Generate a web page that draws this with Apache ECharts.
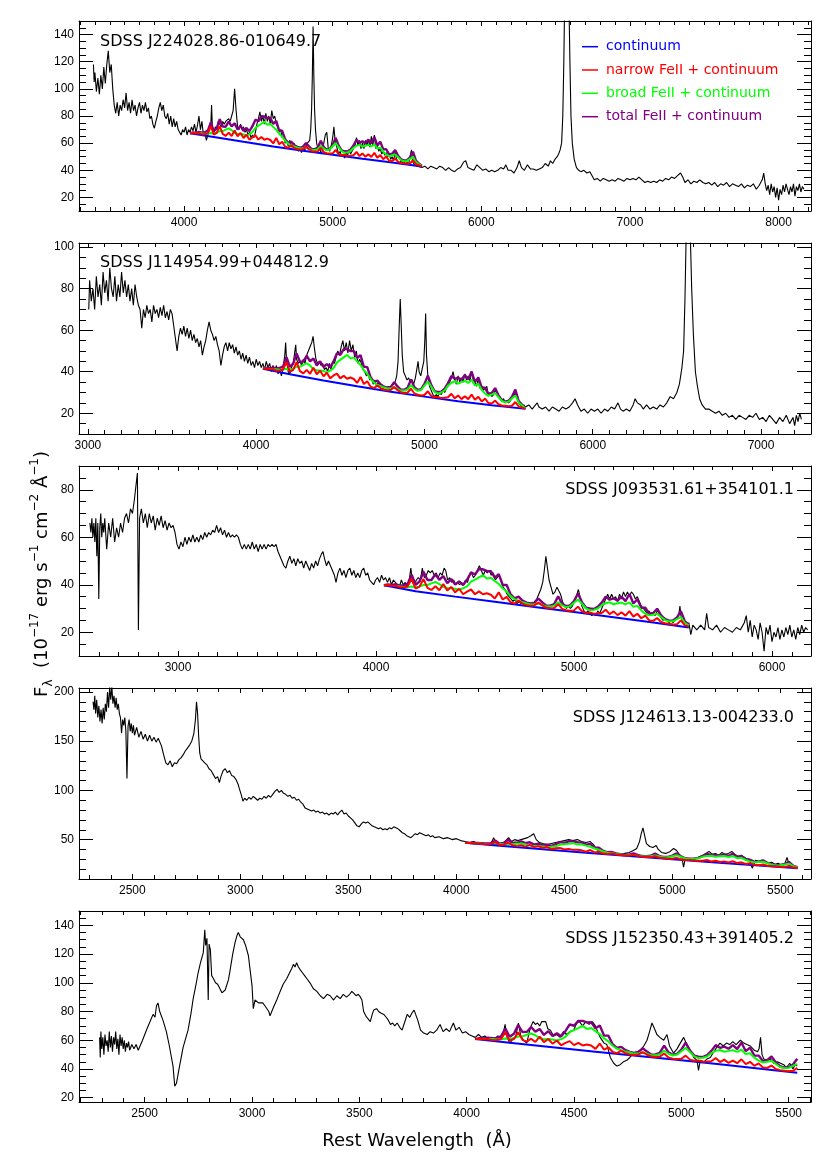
<!DOCTYPE html>
<html><head><meta charset="utf-8">
<script src="https://cdn.jsdelivr.net/npm/echarts@6/dist/echarts.min.js"></script>
<style>html,body{margin:0;padding:0;background:#fff;}#c{width:830px;height:1165px;}</style>
</head><body><div id="c"></div>
<script>
// ---------------- DATA ----------------
const objectNames = ['SDSS J224028.86-010649.7','SDSS J114954.99+044812.9','SDSS J093531.61+354101.1','SDSS J124613.13-004233.0','SDSS J152350.43+391405.2'];
const legendLabels = ['continuum','narrow FeII + continuum','broad FeII + continuum','total FeII + continuum'];

const xTicks1 = [4000,5000,6000,7000,8000];
const xTicks2 = [3000,4000,5000,6000,7000];
const xTicks3 = [3000,4000,5000,6000];
const xTicks4 = [2500,3000,3500,4000,4500,5000,5500];
const xTicks5 = [2500,3000,3500,4000,4500,5000,5500];
const yTicks1 = [20,40,60,80,100,120,140];
const yTicks2 = [20,40,60,80,100];
const yTicks3 = [20,40,60,80];
const yTicks4 = [50,100,150,200];
const yTicks5 = [20,40,60,80,100,120,140];

// observed spectra: wavelength, flux pairs (flat)
const spec1 = [3390,118,3395,105,3400,112,3410,98,3420,108,3430,96,3440,110,3450,100,3460,116,3470,104,3480,118,3490,128,3500,112,3510,118,3520,100,3530,88,3540,82,3550,90,3560,80,3570,88,3580,84,3590,92,3600,86,3610,97,3620,84,3630,90,3640,82,3650,92,3660,84,3670,88,3680,80,3690,86,3700,90,3710,82,3720,88,3730,84,3740,90,3750,83,3760,86,3770,78,3780,80,3790,74,3800,71,3810,76,3820,80,3830,86,3840,90,3850,84,3860,88,3870,80,3880,78,3890,82,3900,74,3910,80,3920,72,3930,78,3940,72,3950,76,3960,70,3970,68,3980,66,3990,70,4000,68,4010,72,4020,66,4030,70,4040,68,4050,72,4060,69,4070,74,4080,68,4090,73,4100,80,4110,70,4120,76,4130,66,4140,68,4150,62,4160,66,4170,70,4180,74,4185,88,4190,72,4200,66,4210,72,4220,70,4230,76,4240,74,4250,72,4260,76,4270,74,4280,76,4290,75,4300,78,4310,76,4320,80,4330,84,4340,100,4350,84,4360,72,4370,70,4380,74,4390,70,4400,72,4410,68,4420,70,4430,66,4440,68,4450,64,4460,66,4470,64,4480,68,4490,74,4500,78,4510,83,4520,76,4530,80,4540,74,4550,82,4560,76,4570,80,4580,74,4590,84,4600,78,4610,80,4620,74,4630,72,4640,68,4650,70,4660,64,4670,66,4680,60,4690,62,4700,58,4710,62,4720,57,4730,56,4740,60,4750,56,4760,58,4770,54,4780,56,4790,53,4800,57,4810,54,4820,58,4830,60,4845,62,4852,70,4858,85,4863,110,4868,146,4873,110,4878,85,4884,70,4892,60,4900,56,4910,60,4920,52,4930,54,4940,60,4950,66,4960,68,4970,56,4980,54,4990,58,5000,64,5008,72,5016,62,5030,56,5040,52,5050,54,5060,50,5070,52,5080,49,5090,53,5100,51,5110,55,5120,52,5130,54,5140,56,5150,58,5160,64,5170,58,5180,62,5190,56,5200,60,5210,56,5220,62,5230,58,5240,63,5250,57,5260,65,5270,58,5280,66,5290,56,5300,58,5310,54,5320,56,5330,52,5340,54,5350,51,5360,53,5370,50,5380,52,5390,48,5400,50,5410,47,5420,54,5430,48,5440,47,5450,45,5460,48,5470,45,5480,47,5490,44,5500,46,5510,44,5520,50,5530,55,5540,46,5550,44,5560,45,5570,43,5580,44,5600,42,5620,43,5640,41,5660,43,5680,42,5700,41,5720,43,5740,42,5760,40,5780,42,5800,40,5820,39,5840,41,5860,42,5880,46,5895,47,5910,42,5930,41,5950,40,5970,44,5990,42,6010,40,6030,41,6050,39,6070,40,6090,39,6110,40,6130,42,6150,41,6165,44,6180,40,6200,40,6220,38,6240,42,6255,47,6270,42,6290,40,6310,44,6330,41,6350,41,6370,40,6390,41,6410,42,6430,45,6450,43,6465,47,6480,45,6495,48,6510,50,6520,52,6530,55,6540,60,6548,80,6555,120,6560,160,6575,420,6590,160,6596,120,6603,80,6612,60,6625,48,6640,42,6655,40,6670,39,6690,40,6710,38,6730,39,6745,36,6760,33,6780,34,6800,32,6820,34,6840,33,6860,32,6880,33,6900,32,6920,34,6940,33,6960,32,6980,34,7000,33,7020,34,7040,33,7060,35,7080,33,7100,31,7120,32,7140,31,7160,32,7180,31,7200,33,7220,32,7240,34,7260,33,7280,35,7300,34,7320,36,7340,38,7355,35,7370,31,7390,33,7410,30,7430,32,7450,31,7470,33,7490,31,7510,30,7530,31,7550,29,7570,31,7590,28,7610,30,7630,29,7650,31,7670,28,7690,30,7710,29,7730,28,7750,30,7770,27,7790,29,7810,28,7830,30,7850,26,7870,29,7890,33,7900,38,7910,30,7920,25,7930,29,7940,22,7950,30,7960,24,7970,28,7980,20,7990,27,8000,18,8010,26,8020,22,8030,29,8040,24,8050,30,8060,26,8070,22,8080,28,8090,24,8100,30,8110,21,8120,28,8130,25,8140,30,8150,24,8160,28,8170,26];

const spec2 = [3005,70,3010,84,3020,74,3030,80,3040,70,3050,86,3060,76,3070,82,3080,72,3090,88,3100,78,3110,84,3120,74,3130,90,3140,80,3150,76,3160,86,3170,74,3180,82,3190,76,3200,88,3210,78,3220,84,3230,76,3240,82,3250,74,3260,80,3270,72,3280,82,3290,76,3300,72,3310,70,3320,61,3330,70,3340,66,3350,72,3360,68,3370,70,3380,64,3390,72,3400,68,3410,70,3420,66,3430,71,3440,67,3450,72,3460,66,3470,69,3480,65,3490,70,3500,68,3510,62,3520,56,3530,50,3540,57,3550,61,3560,58,3570,62,3580,57,3590,61,3600,56,3610,60,3620,55,3630,58,3640,54,3650,56,3660,52,3670,55,3680,48,3690,52,3700,55,3710,60,3720,64,3730,60,3740,58,3750,55,3760,57,3770,53,3780,50,3790,43,3800,48,3810,52,3820,54,3830,50,3840,54,3850,51,3860,53,3870,49,3880,52,3890,48,3900,50,3910,46,3920,49,3930,45,3940,48,3950,44,3960,47,3970,43,3980,45,3990,42,4000,46,4010,43,4020,45,4030,42,4040,44,4050,41,4060,45,4070,42,4080,44,4090,40,4100,43,4110,40,4120,43,4130,39,4140,41,4150,38,4160,42,4170,48,4175,54,4180,46,4190,40,4200,39,4210,42,4220,44,4230,50,4235,53,4240,46,4250,44,4260,45,4270,43,4280,46,4290,44,4300,48,4310,50,4320,52,4330,54,4338,57,4345,52,4355,46,4365,44,4375,45,4385,43,4395,44,4405,41,4415,42,4425,40,4435,44,4445,41,4455,45,4465,44,4475,47,4485,50,4495,48,4505,52,4515,55,4525,50,4535,54,4545,49,4555,55,4565,50,4575,53,4585,47,4595,50,4605,44,4615,46,4625,44,4635,41,4645,40,4655,38,4665,39,4675,36,4685,37,4695,34,4705,36,4715,33,4725,35,4735,33,4745,34,4755,32,4765,33,4775,32,4785,33,4795,31,4805,33,4815,33,4825,35,4835,38,4843,45,4850,62,4856,75,4862,62,4868,48,4876,40,4886,38,4896,36,4906,37,4916,35,4926,36,4936,34,4946,37,4956,42,4962,45,4968,40,4978,38,4988,42,4996,45,5002,55,5007,68,5012,48,5020,38,5030,33,5040,31,5050,29,5060,28,5070,29,5080,28,5090,30,5100,29,5110,31,5120,30,5130,32,5140,33,5150,35,5160,37,5170,40,5180,36,5190,34,5200,38,5210,35,5220,37,5230,35,5240,39,5250,36,5260,38,5270,35,5280,40,5290,36,5300,35,5310,33,5320,37,5330,32,5340,33,5350,31,5360,32,5370,33,5380,29,5390,30,5400,28,5410,29,5420,31,5430,30,5440,28,5450,27,5460,26,5470,27,5480,25,5490,26,5500,25,5510,26,5520,27,5530,28,5540,30,5550,27,5560,25,5570,24,5580,23,5590,24,5600,23,5620,24,5640,22,5660,24,5670,25,5680,23,5700,22,5720,23,5740,21,5760,23,5780,22,5800,21,5820,23,5840,22,5860,23,5880,25,5895,27,5910,24,5930,21,5950,22,5970,20,5990,22,6010,21,6030,22,6050,20,6070,22,6090,21,6110,23,6130,22,6150,25,6165,22,6180,21,6200,22,6220,21,6240,24,6252,27,6265,25,6285,24,6300,22,6320,24,6340,22,6360,23,6380,22,6400,24,6420,23,6440,25,6460,28,6480,27,6500,30,6515,34,6530,42,6540,50,6548,75,6555,105,6567,280,6580,105,6588,80,6598,58,6610,40,6622,33,6635,27,6650,24,6670,22,6690,22,6710,21,6730,20,6750,21,6770,19,6790,20,6810,18,6830,19,6850,17,6870,19,6890,18,6910,17,6930,19,6950,18,6970,20,6990,17,7010,18,7030,16,7050,19,7070,17,7090,15,7110,18,7130,16,7150,19,7170,15,7190,18,7200,14,7210,19,7220,16,7230,20,7240,17];

const spec3 = [2555,66,2560,62,2565,68,2570,60,2575,66,2580,58,2585,68,2590,52,2595,66,2600,34,2605,64,2610,70,2615,60,2620,66,2625,62,2630,68,2640,55,2650,66,2660,60,2670,68,2680,58,2690,64,2700,60,2710,66,2720,62,2730,68,2740,70,2750,66,2760,72,2770,70,2780,76,2788,82,2795,87,2800,21,2806,68,2815,72,2825,66,2835,70,2845,64,2855,70,2865,66,2875,69,2885,63,2895,68,2905,65,2915,69,2925,64,2935,67,2945,63,2955,66,2965,64,2975,65,2985,62,2995,57,3005,55,3015,58,3025,56,3035,60,3045,57,3055,60,3065,58,3075,61,3085,58,3095,60,3105,58,3115,61,3125,59,3135,62,3145,60,3155,62,3165,61,3175,63,3185,62,3195,65,3205,62,3215,64,3225,61,3235,63,3245,60,3255,62,3265,60,3275,61,3285,60,3295,61,3305,60,3315,57,3325,55,3335,57,3345,55,3355,57,3365,55,3375,58,3385,55,3395,57,3405,54,3415,57,3425,55,3435,57,3445,55,3455,57,3465,56,3475,57,3485,56,3495,57,3505,54,3515,52,3525,50,3535,48,3545,47,3555,50,3565,52,3575,49,3585,51,3595,48,3605,51,3615,49,3625,50,3635,47,3645,50,3655,48,3665,46,3675,49,3685,47,3695,50,3705,48,3715,51,3725,53,3732,54,3740,51,3750,48,3760,50,3770,48,3780,46,3790,44,3798,41,3808,45,3818,47,3828,44,3838,46,3848,43,3858,46,3868,47,3878,44,3888,46,3898,43,3908,45,3918,43,3928,46,3938,47,3948,44,3958,45,3968,42,3978,41,3988,40,3998,42,4008,43,4018,41,4028,44,4038,42,4048,43,4058,41,4068,43,4078,40,4088,42,4098,41,4108,40,4118,39,4128,42,4138,40,4148,41,4158,39,4168,42,4176,47,4184,41,4194,40,4204,42,4214,43,4224,42,4234,47,4244,43,4254,44,4264,46,4274,45,4284,46,4294,44,4304,45,4314,43,4324,45,4334,44,4344,47,4352,46,4362,42,4372,43,4382,41,4392,42,4402,40,4412,41,4422,40,4432,41,4442,40,4452,42,4462,41,4472,44,4482,45,4492,43,4502,44,4512,46,4522,48,4532,46,4542,44,4552,46,4562,45,4572,46,4582,44,4592,45,4602,42,4612,43,4622,44,4632,42,4642,39,4652,38,4662,36,4672,35,4682,34,4692,33,4702,34,4712,32,4722,33,4732,32,4742,33,4752,31,4762,32,4772,31,4782,32,4792,31,4802,33,4812,34,4822,36,4832,38,4842,41,4850,46,4858,52,4866,47,4874,42,4884,39,4894,36,4904,37,4914,39,4924,39,4932,36,4942,33,4952,31,4962,30,4972,31,4982,30,4992,31,5002,33,5012,35,5022,38,5030,35,5040,31,5050,29,5060,28,5070,29,5080,28,5090,27,5100,28,5110,27,5120,29,5130,28,5140,30,5150,32,5160,34,5170,36,5180,34,5190,36,5200,34,5210,35,5220,33,5230,36,5240,34,5250,37,5260,35,5270,37,5280,35,5290,37,5300,36,5310,34,5320,35,5330,33,5340,31,5350,30,5360,29,5370,28,5380,29,5390,27,5400,28,5410,27,5420,29,5430,28,5440,26,5450,25,5460,26,5470,25,5480,24,5490,25,5500,24,5510,25,5520,26,5530,28,5535,31,5540,27,5550,24,5560,23,5570,22,5580,24,5590,19,5600,23,5620,21,5640,23,5660,21,5670,28,5680,22,5700,21,5720,23,5740,20,5760,22,5780,21,5800,20,5820,22,5840,21,5860,24,5870,27,5880,20,5890,25,5900,18,5910,23,5920,21,5930,17,5940,24,5950,20,5960,12,5970,22,5980,19,5990,23,6000,16,6010,20,6020,18,6030,22,6040,17,6050,21,6060,18,6070,22,6080,19,6090,23,6100,18,6110,21,6120,17,6130,22,6140,19,6150,23,6160,20,6170,22,6180,21];

const spec4 = [2318,190,2322,182,2326,196,2330,178,2335,192,2340,174,2345,186,2350,170,2355,182,2360,168,2365,184,2370,172,2375,188,2380,180,2385,200,2390,184,2395,205,2400,192,2405,206,2410,188,2415,196,2420,184,2425,194,2430,182,2435,188,2440,178,2445,174,2450,158,2455,172,2460,166,2465,174,2470,160,2475,112,2480,165,2485,172,2490,160,2495,168,2500,158,2505,166,2510,156,2520,164,2530,154,2540,160,2550,152,2560,157,2570,150,2580,156,2590,150,2600,154,2610,149,2620,153,2625,152,2635,145,2645,136,2655,128,2665,126,2675,130,2685,124,2695,128,2705,127,2715,131,2725,133,2735,136,2745,140,2755,143,2765,146,2775,150,2785,158,2792,172,2797,190,2802,178,2807,155,2812,138,2818,132,2825,133,2835,128,2845,126,2855,122,2865,120,2875,116,2885,112,2895,114,2903,108,2910,114,2920,120,2930,122,2940,118,2950,120,2960,115,2970,114,2980,111,2990,106,2995,102,3005,95,3012,89,3020,92,3030,90,3040,93,3050,91,3060,94,3070,92,3080,90,3090,92,3100,91,3110,94,3120,92,3130,95,3140,93,3150,96,3160,99,3170,101,3180,98,3190,100,3200,97,3210,96,3220,94,3230,95,3240,92,3250,93,3260,90,3270,91,3280,88,3290,86,3300,82,3310,81,3320,80,3330,79,3340,80,3350,78,3360,79,3370,77,3380,78,3390,76,3400,77,3410,75,3420,77,3430,76,3440,78,3450,75,3460,78,3470,80,3480,76,3490,77,3500,74,3510,72,3520,70,3530,67,3540,64,3550,63,3560,66,3570,68,3580,67,3590,68,3600,66,3610,64,3620,63,3630,62,3640,61,3650,62,3660,60,3670,61,3680,60,3690,62,3700,61,3710,63,3718,64,3730,61,3740,59,3750,57,3760,56,3770,54,3780,53,3790,52,3800,54,3810,56,3820,55,3830,57,3840,56,3850,55,3860,54,3870,55,3880,53,3890,54,3900,52,3920,53,3940,51,3960,52,3980,50,4000,51,4020,49,4040,48,4060,47,4080,48,4100,46,4120,47,4140,45,4160,46,4173,52,4185,45,4200,46,4220,47,4242,52,4255,48,4270,50,4285,49,4300,50,4315,51,4330,52,4345,54,4358,56,4370,50,4385,47,4400,46,4420,45,4440,46,4460,47,4480,48,4500,49,4520,50,4540,49,4560,50,4580,48,4600,47,4620,48,4635,45,4650,40,4665,37,4680,36,4700,35,4720,36,4740,34,4760,35,4780,36,4800,37,4820,39,4835,41,4848,48,4856,56,4864,62,4872,54,4880,46,4895,43,4910,42,4925,44,4935,40,4950,37,4970,36,4990,38,5006,41,5020,39,5035,34,5045,31,5052,22,5060,31,5075,30,5090,29,5105,30,5120,32,5140,34,5155,36,5170,38,5185,35,5200,36,5215,34,5230,37,5245,35,5260,36,5275,38,5290,35,5305,33,5320,34,5340,31,5355,30,5370,21,5385,29,5400,28,5415,29,5430,27,5445,26,5460,27,5475,25,5490,26,5505,24,5520,25,5531,32,5540,25,5555,23,5570,22,5580,22];

const spec5 = [2290,62,2293,48,2296,66,2300,54,2305,62,2310,50,2315,64,2320,56,2325,60,2330,52,2335,66,2340,55,2345,63,2350,52,2355,62,2360,57,2365,66,2370,54,2375,61,2380,50,2385,64,2390,56,2395,62,2400,54,2405,60,2410,52,2415,58,2420,55,2425,59,2430,53,2440,57,2450,54,2460,57,2470,53,2477,52,2490,60,2508,67,2525,73,2539,78,2548,76,2555,84,2562,86,2570,80,2585,74,2601,66,2615,56,2632,42,2640,28,2648,30,2660,40,2679,55,2702,67,2715,78,2726,89,2738,98,2749,107,2760,114,2773,121,2780,137,2784,126,2790,131,2796,88,2800,127,2806,123,2812,105,2820,103,2830,100,2840,99,2850,96,2860,93,2866,92,2875,95,2882,96,2890,102,2897,108,2910,120,2921,128,2930,133,2936,135,2945,132,2953,133,2960,130,2970,126,2983,119,2992,108,3000,98,3006,82,3014,88,3022,89,3030,86,3037,87,3050,86,3060,84,3069,85,3078,80,3084,77,3092,80,3100,83,3115,88,3131,94,3145,99,3162,103,3175,107,3185,110,3193,113,3200,111,3208,114,3216,111,3225,109,3235,107,3245,105,3255,103,3270,100,3285,96,3302,94,3318,91,3333,89,3350,92,3364,91,3380,88,3395,91,3411,89,3425,92,3440,90,3455,92,3465,94,3473,93,3485,91,3495,92,3505,90,3512,88,3520,80,3530,77,3540,75,3551,73,3560,78,3567,81,3580,82,3590,80,3600,79,3614,78,3625,76,3635,74,3645,71,3655,72,3665,70,3676,72,3688,69,3699,67,3710,72,3723,78,3735,76,3745,79,3755,81,3762,80,3772,74,3785,67,3800,65,3816,64,3830,66,3845,65,3860,67,3876,71,3890,66,3905,68,3920,66,3938,72,3950,67,3965,69,3980,65,3995,66,4010,64,4025,63,4040,62,4055,64,4070,62,4085,63,4100,61,4115,62,4130,61,4145,63,4160,62,4172,66,4179,71,4188,62,4202,58,4215,61,4228,62,4241,72,4252,63,4265,60,4280,58,4292,66,4300,70,4310,73,4320,71,4330,72,4340,70,4350,73,4358,72,4368,73,4378,68,4390,67,4405,63,4420,64,4435,62,4451,66,4465,64,4480,66,4498,67,4513,72,4525,73,4540,70,4555,73,4570,71,4585,73,4600,70,4610,66,4622,62,4640,58,4653,57,4669,48,4685,44,4700,42,4715,43,4730,45,4746,46,4760,48,4778,51,4795,52,4809,53,4825,56,4840,60,4852,66,4863,72,4875,68,4886,64,4900,62,4918,60,4933,64,4945,56,4964,51,4980,54,4995,58,5011,62,5025,57,5042,53,5058,48,5073,46,5080,39,5088,46,5105,45,5120,47,5135,48,5151,52,5165,55,5180,58,5195,56,5210,58,5225,57,5240,59,5255,57,5275,60,5291,58,5305,57,5322,56,5340,53,5355,52,5362,54,5369,62,5376,50,5384,47,5400,46,5415,47,5430,44,5447,45,5462,44,5477,43,5490,41,5505,44,5520,40,5530,43,5540,42];

// FeII model wavelengths
const feGrid = [4040,4060,4080,4100,4120,4140,4160,4180,4200,4220,4240,4260,4280,4300,4320,4340,4360,4380,4400,4420,4440,4460,4480,4500,4520,4540,4560,4580,4600,4620,4640,4660,4680,4700,4720,4740,4760,4780,4800,4820,4840,4860,4880,4900,4920,4940,4960,4980,5000,5020,5040,5060,5080,5100,5120,5140,5160,5180,5200,5220,5240,5260,5280,5300,5320,5340,5360,5380,5400,5420,5440,5460,5480,5500,5520,5540,5560,5580,5600];

const cont1 = [4040,67.2,4200,64.5,4400,61.0,4600,57.6,4800,54.4,5000,51.4,5200,48.5,5400,45.7,5600,42.8];
const narrow1 = [67.2,67.5,67.1,67.3,66.5,66.6,67.4,72.5,66.2,67.5,72.6,66.8,65.3,67.8,65.2,69.3,65.0,67.5,63.8,66.2,62.5,64.4,65.7,62.6,64.5,62.5,63.3,62.3,59.8,63.9,59.2,61.0,57.4,56.6,58.5,56.5,55.6,55.3,55.5,57.4,55.5,54.1,53.8,54.0,56.5,53.4,52.6,52.3,52.5,55.0,51.9,51.1,51.3,50.6,50.8,51.1,53.5,50.5,52.4,49.9,51.8,49.8,52.9,49.3,51.2,48.2,50.1,47.0,46.8,48.7,46.2,45.4,45.1,44.8,45.0,47.5,44.4,43.7,42.8];
const broad1 = [67.2,67.3,67.0,67.1,67.2,66.9,67.0,67.5,67.2,67.8,68.8,68.9,69.9,70.9,69.6,67.5,66.7,66.8,66.4,65.7,66.6,68.1,71.3,72.8,74.3,75.7,73.6,74.1,72.0,69.9,66.9,64.7,61.7,59.6,58.4,57.6,56.8,56.1,56.2,56.8,56.0,54.9,55.0,55.6,58.0,55.9,54.7,55.3,57.7,60.1,57.1,54.1,52.9,53.2,54.2,56.6,58.1,58.7,57.5,58.1,58.7,57.5,59.1,56.1,56.7,53.7,51.6,50.4,51.1,51.7,49.6,47.5,46.7,46.9,48.4,49.9,46.0,44.5,43.2];
const total1 = [67.2,67.9,67.6,68.2,67.8,68.0,69.2,75.2,68.8,71.1,77.6,72.2,72.1,75.9,72.3,74.6,70.0,72.8,69.1,71.2,68.8,72.5,77.3,76.1,79.8,79.6,78.6,78.5,74.2,76.5,69.1,69.1,62.8,60.2,61.1,58.7,57.3,56.7,57.3,60.1,57.6,55.5,55.6,56.7,61.8,57.0,55.2,55.8,58.8,63.9,58.2,54.6,54.0,53.8,55.3,58.2,62.5,60.3,61.4,59.8,62.6,59.7,64.6,58.3,61.1,55.4,55.5,51.5,52.2,55.0,50.7,48.1,47.3,47.5,49.5,53.7,47.1,45.0,43.2];

const cont2 = [4040,41.4,4200,38.8,4400,35.8,4600,33.0,4800,30.4,5000,28.0,5200,25.8,5400,23.9,5600,22.1];
const narrow2 = [41.4,41.5,41.2,41.2,40.5,40.6,41.1,44.7,40.0,40.9,44.6,40.3,39.2,40.9,39.0,41.9,38.8,40.5,37.8,39.5,36.8,38.2,39.1,36.8,38.1,36.6,37.2,36.5,34.6,37.5,34.1,35.4,32.8,32.1,33.4,32.0,31.3,31.1,31.2,32.6,31.1,30.1,29.8,30.0,31.8,29.5,28.9,28.6,28.8,30.6,28.4,27.7,27.9,27.3,27.5,27.7,29.4,27.2,28.6,26.8,28.2,26.8,29.0,26.5,27.9,25.7,27.1,24.9,24.7,26.1,24.3,23.7,23.6,23.4,23.6,25.4,23.3,22.7,22.1];
const broad2 = [41.4,41.4,41.3,41.2,41.2,41.0,41.0,41.4,41.1,41.5,42.4,42.4,43.3,44.1,43.0,41.2,40.6,40.6,40.3,39.7,40.5,41.8,44.5,45.7,46.9,48.1,46.4,46.8,45.0,43.2,40.8,39.0,36.5,34.7,33.7,33.0,32.4,31.9,31.9,32.5,31.7,30.9,30.9,31.5,33.5,31.7,30.8,31.2,33.3,35.3,32.9,30.3,29.4,30.0,31.0,33.3,34.7,35.4,34.3,35.0,35.6,34.6,36.1,33.4,34.1,31.3,29.4,28.4,29.0,29.7,27.8,25.9,25.2,25.6,27.1,28.6,25.1,23.7,22.4];
const total2 = [41.4,41.8,41.7,42.0,41.6,41.8,42.6,47.0,42.3,43.9,48.8,44.8,44.9,47.7,45.0,46.4,43.0,45.0,42.3,43.7,42.1,45.0,48.9,48.1,50.9,50.9,50.0,50.0,46.6,48.0,42.4,42.2,37.3,35.1,35.7,33.8,32.8,32.3,32.7,34.9,32.9,31.3,31.3,32.3,36.3,32.5,31.2,31.6,34.1,38.1,33.7,30.7,30.2,30.4,31.8,34.5,37.9,36.6,37.1,36.2,38.4,36.2,40.1,35.0,37.3,32.5,32.2,29.2,29.8,32.1,28.6,26.3,25.6,26.0,27.9,31.4,25.9,24.1,22.4];

const cont3 = [4040,39.8,4200,37.3,4400,35.0,4600,32.8,4800,30.6,5000,28.5,5200,26.3,5400,24.1,5580,22.0];
const narrow3 = [39.8,39.9,39.6,39.6,38.9,38.9,39.3,42.5,38.4,39.2,42.4,38.7,37.8,39.4,37.7,40.3,37.6,39.1,36.8,38.3,36.0,37.1,38.0,36.0,37.2,36.0,36.4,35.8,34.2,36.8,33.8,34.9,32.6,32.1,33.3,32.0,31.4,31.2,31.3,32.5,31.3,30.3,30.1,30.2,31.8,29.8,29.3,29.1,29.2,30.8,28.8,28.2,28.3,27.8,27.9,28.1,29.5,27.6,28.8,27.2,28.4,27.0,28.9,26.6,27.8,25.9,27.0,25.0,24.8,26.0,24.3,23.8,23.6,23.3,23.4,25.0,22.9,22.4];
const broad3 = [39.8,39.7,39.5,39.5,39.3,39.1,39.0,39.3,38.9,39.3,39.9,39.9,40.6,41.2,40.3,39.0,38.6,38.5,38.3,37.9,38.5,39.3,41.3,42.2,43.1,44.0,42.6,42.9,41.6,40.3,38.5,37.1,35.2,33.9,33.2,32.6,32.1,31.7,31.7,32.1,31.5,30.8,30.8,31.2,32.6,31.3,30.6,30.9,32.4,33.8,32.0,30.0,29.3,29.4,30.0,31.4,32.2,32.6,31.8,32.2,32.5,31.7,32.6,30.7,31.1,29.2,27.8,27.1,27.4,27.8,26.4,25.1,24.5,24.6,25.5,26.4,23.9,22.9];
const total3 = [39.8,40.1,39.9,40.2,39.7,39.8,40.4,44.2,40.0,41.4,45.5,42.0,42.0,44.4,42.1,43.6,40.7,42.4,40.1,41.4,39.9,42.1,45.2,44.3,46.6,46.5,45.8,45.7,43.0,44.5,39.9,39.9,35.9,34.3,35.0,33.3,32.5,32.1,32.4,34.2,32.6,31.2,31.2,31.9,35.1,32.0,31.0,31.3,33.1,36.3,32.7,30.4,30.0,29.8,30.7,32.5,35.0,33.7,34.3,33.3,35.0,33.1,36.1,32.1,33.9,30.3,30.3,27.8,28.1,29.9,27.1,25.5,24.9,25.0,26.2,28.9,24.6,23.3];

const cont4 = [4040,46.7,4200,43.8,4400,40.2,4600,36.7,4800,33.3,5000,30.0,5200,26.7,5400,23.6,5580,20.8];
const narrow4 = [46.7,46.6,46.3,46.1,45.6,45.4,45.5,47.7,44.6,44.9,47.1,44.2,43.4,44.3,42.9,44.6,42.4,43.4,41.5,42.4,40.5,41.2,41.6,40.0,40.6,39.6,39.7,39.1,37.7,39.4,37.0,37.7,35.8,35.3,36.0,34.8,34.3,33.9,33.8,34.5,33.4,32.6,32.3,32.2,33.1,31.5,31.0,30.6,30.5,31.5,29.8,29.3,29.2,28.7,28.5,28.5,29.4,27.8,28.5,27.2,27.9,26.8,28.0,26.2,26.9,25.3,26.0,24.4,24.1,24.8,23.5,23.0,22.7,22.4,22.2,23.2,21.6,21.1];
const broad4 = [46.7,46.5,46.3,46.1,45.9,45.6,45.4,45.6,45.2,45.2,45.6,45.4,45.8,46.1,45.2,44.0,43.4,43.3,42.9,42.4,42.7,43.3,44.7,45.3,45.8,46.4,45.1,45.2,43.9,42.7,41.0,39.8,38.0,36.8,36.1,35.4,34.9,34.3,34.2,34.4,33.7,33.0,32.9,33.1,34.0,32.8,32.1,32.1,33.2,34.2,32.5,30.8,30.1,30.6,31.0,32.5,33.4,33.6,32.7,33.0,33.3,32.4,33.3,31.2,31.5,29.3,27.8,26.9,27.2,27.5,26.0,24.5,23.8,23.9,24.7,25.6,22.9,21.8];
const total4 = [46.7,46.7,46.5,46.6,46.2,46.1,46.4,49.1,45.9,46.7,49.6,46.9,46.8,48.3,46.4,47.3,44.9,46.0,44.2,44.9,43.7,45.3,47.5,46.8,48.3,48.2,47.4,47.2,44.9,45.7,42.0,41.8,38.5,37.1,37.4,35.9,35.2,34.6,34.7,35.9,34.5,33.3,33.2,33.6,35.8,33.3,32.4,32.4,33.7,36.0,33.0,31.1,30.6,30.9,31.5,33.3,35.4,34.4,34.5,33.8,35.1,33.4,35.8,32.2,33.5,30.1,29.6,27.4,27.7,29.0,26.5,24.8,24.1,24.2,25.2,27.4,23.4,22.1];

const cont5 = [4040,60.8,4200,58.2,4400,55.1,4600,52.0,4800,49.0,5000,46.1,5200,43.0,5400,39.7,5540,37.3];
const narrow5 = [60.8,61.0,60.7,60.8,60.0,60.2,60.9,65.5,59.7,60.9,65.6,60.3,59.0,61.1,58.8,62.5,58.7,60.9,57.6,59.8,56.5,58.2,59.4,56.6,58.2,56.4,57.1,56.3,54.0,57.7,53.4,55.1,51.8,51.0,52.7,50.9,50.1,49.8,50.0,51.7,49.9,48.6,48.3,48.6,50.8,48.0,47.2,46.9,47.1,49.3,46.5,45.7,45.9,45.1,45.2,45.4,47.6,44.8,46.5,44.2,45.8,44.0,46.7,43.4,45.0,42.2,43.9,41.0,40.7,42.4,40.0,39.2,38.8,38.5,38.6,40.8];
const broad5 = [60.8,60.9,60.7,60.7,60.8,60.6,60.7,61.2,60.9,61.5,62.6,62.7,63.8,64.7,63.5,61.4,60.7,60.8,60.5,59.8,60.8,62.3,65.6,67.1,68.5,70.0,67.9,68.5,66.4,64.3,61.3,59.2,56.2,54.1,52.9,52.1,51.4,50.7,50.8,51.4,50.6,49.5,49.6,50.3,52.7,50.6,49.4,50.0,52.4,54.8,51.8,48.8,47.6,47.8,48.7,51.1,52.6,53.2,52.0,52.6,53.1,51.9,53.4,50.4,50.9,47.9,45.8,44.5,45.1,45.7,43.5,41.4,40.5,40.7,42.1,43.6];
const total5 = [60.8,61.4,61.2,61.7,61.3,61.6,62.7,68.2,62.4,64.5,70.6,65.7,65.8,69.2,66.0,67.9,63.7,66.3,63.0,64.8,62.8,66.3,71.1,70.1,73.5,73.5,72.4,72.5,68.4,70.3,63.3,63.2,57.2,54.6,55.4,53.1,51.9,51.2,51.8,54.4,52.1,50.0,50.1,51.3,56.2,51.6,49.9,50.5,53.4,58.3,52.8,49.3,48.6,48.3,49.7,52.6,56.6,54.7,55.5,54.1,56.6,53.9,58.4,52.4,54.9,49.4,49.3,45.5,46.1,48.7,44.5,41.9,41.0,41.2,43.1,47.1];

// ---------------- LAYOUT ----------------
const layout = [
  {top:21,  height:190, x:[3293,8218], y:[10,150], xMinor:100, yMinor:5,  xt:xTicks1, yt:yTicks1, name:{x:100,y:42,align:'left'}},
  {top:243, height:191, x:[2947,7297], y:[10,102], xMinor:100, yMinor:5,  xt:xTicks2, yt:yTicks2, name:{x:100,y:263,align:'left'}},
  {top:466, height:190, x:[2500,6197], y:[10,90],  xMinor:100, yMinor:5,  xt:xTicks3, yt:yTicks3, name:{x:794,y:490,align:'right'}},
  {top:688, height:191, x:[2253,5642], y:[10,204], xMinor:100, yMinor:10, xt:xTicks4, yt:yTicks4, name:{x:794,y:718,align:'right'}},
  {top:911, height:191, x:[2194,5604], y:[17,150], xMinor:100, yMinor:5,  xt:xTicks5, yt:yTicks5, name:{x:794,y:939,align:'right'}}
];
const specs = [spec1,spec2,spec3,spec4,spec5];
const conts = [cont1,cont2,cont3,cont4,cont5];
const narrows = [narrow1,narrow2,narrow3,narrow4,narrow5];
const broads = [broad1,broad2,broad3,broad4,broad5];
const totals = [total1,total2,total3,total4,total5];

const COL = {blue:'#0000ff', red:'#ff0000', green:'#00ff00', purple:'#800080'};
const LBL = {fontFamily:'Liberation Sans', fontSize:12, color:'#000', formatter:(v)=>String(v)};

function steps(lo,hi,st){const a=[];for(let v=Math.ceil(lo/st)*st; v<=hi+1e-9; v+=st) a.push(v);return a;}
function pairs(flat){const o=[];for(let i=0;i<flat.length;i+=2)o.push([flat[i],flat[i+1]]);return o;}
function onGrid(v){return v.map((y,i)=>[feGrid[i],y]);}

const grids=[], xAxes=[], yAxes=[], series=[], graphics=[];
layout.forEach((L,i)=>{
  grids.push({left:79, width:732, top:L.top, height:L.height, containLabel:false});
  const xm = steps(L.x[0],L.x[1],L.xMinor), ym = steps(L.y[0],L.y[1],L.yMinor);
  const ax = (isX,pos,ticks,len,line,label)=>({
    gridIndex:i, type:'value', position:pos,
    min:isX?L.x[0]:L.y[0], max:isX?L.x[1]:L.y[1],
    axisLine:{show:line, onZero:false, lineStyle:{color:'#000',width:1}},
    axisTick:{show:true, inside:true, length:len, customValues:ticks, lineStyle:{color:'#000',width:1}},
    axisLabel:Object.assign({show:label, customValues:ticks, margin:isX?6:5}, LBL),
    splitLine:{show:false}, minorTick:{show:false}, silent:true
  });
  xAxes.push(ax(true,'bottom',L.xt,5,true,true), ax(true,'bottom',xm,4,false,false),
             ax(true,'top',L.xt,5,true,false),   ax(true,'top',xm,4,false,false));
  yAxes.push(ax(false,'left',L.yt,14,true,true), ax(false,'left',ym,7,false,false),
             ax(false,'right',L.yt,14,true,false), ax(false,'right',ym,7,false,false));
  const mk=(data,color,width,z)=>({type:'line', xAxisIndex:4*i, yAxisIndex:4*i, data, symbol:'none', showSymbol:false,
      lineStyle:{color,width}, itemStyle:{color}, z, silent:true, animation:false, clip:true});
  series.push(mk(pairs(specs[i]),'#000',1.1,2));
  series.push(mk(onGrid(totals[i]),COL.purple,2.4,3));
  series.push(mk(onGrid(broads[i]),COL.green,2,4));
  series.push(mk(pairs(conts[i]),COL.blue,2,5));
  series.push(mk(onGrid(narrows[i]),COL.red,2,6));
  graphics.push({type:'text', x:L.name.x, y:L.name.y, z:10,
    style:{text:objectNames[i], fill:'#000', font:'16px "DejaVu Sans"', align:L.name.align, verticalAlign:'middle'}});
});

// legend (panel 1)
const legCols=[COL.blue,COL.red,COL.green,COL.purple];
const legY=[46.7,70,93.3,116.7];
legendLabels.forEach((t,k)=>{
  graphics.push({type:'line', z:10, shape:{x1:582,y1:legY[k],x2:598,y2:legY[k]}, style:{stroke:legCols[k], lineWidth:1.5}});
  graphics.push({type:'text', z:10, x:606, y:legY[k], style:{text:t, fill:legCols[k], font:'14px "DejaVu Sans"', align:'left', verticalAlign:'middle'}});
});

// axis titles
graphics.push({type:'text', z:10, x:417, y:1141,
  style:{text:'Rest Wavelength  (Å)', fill:'#000', font:'18px "DejaVu Sans"', align:'center', verticalAlign:'middle'}});
graphics.push({type:'text', z:10, x:42, y:574, rotation:Math.PI/2,
  style:{text:'{a|F}{s|λ}{a|  (10}{p|−17}{a| erg s}{p|−1}{a| cm}{p|−2}{a| Å}{p|−1}{a|)}',
    align:'center', verticalAlign:'middle',
    rich:{
      a:{fontSize:18, fontFamily:'DejaVu Sans', fill:'#000', lineHeight:26, verticalAlign:'middle'},
      p:{fontSize:12, fontFamily:'DejaVu Sans', fill:'#000', lineHeight:12, verticalAlign:'top'},
      s:{fontSize:12, fontFamily:'DejaVu Sans', fill:'#000', lineHeight:12, verticalAlign:'bottom'}
    }}});

const chart = echarts.init(document.getElementById('c'), null, {renderer:'canvas', width:830, height:1165});
chart.setOption({
  backgroundColor:'#fff', animation:false,
  grid:grids, xAxis:xAxes, yAxis:yAxes, series:series, graphic:graphics
});
</script></body></html>
